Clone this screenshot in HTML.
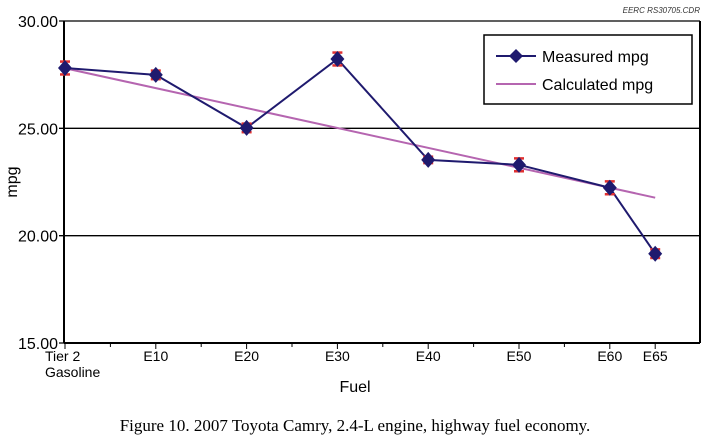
<!DOCTYPE html>
<html><head><meta charset="utf-8"><style>
body{margin:0;background:#fff;width:711px;height:436px;overflow:hidden}
svg{display:block;font-family:"Liberation Sans",sans-serif}
</style></head><body>
<svg id="chart" width="711" height="436">
<text x="700" y="13" font-size="8" font-style="italic" text-anchor="end" fill="#333">EERC RS30705.CDR</text>
<g id="grid"></g>
<g id="axes"></g>
<g id="series"></g>
<g>
<rect x="484" y="35" width="208" height="69" fill="#fff" stroke="#000" stroke-width="1.5"/>
<line x1="496" y1="56" x2="536" y2="56" stroke="#1f1a6e" stroke-width="2"/>
<path d="M516 49 L523 56 L516 63 L509 56Z" fill="#1f1a6e"/>
<text x="542" y="62" font-size="16">Measured mpg</text>
<line x1="496" y1="84" x2="536" y2="84" stroke="#b565b0" stroke-width="2"/>
<text x="542" y="90" font-size="16">Calculated mpg</text>
</g>
<text x="355" y="392" font-size="16" text-anchor="middle">Fuel</text>
<text transform="translate(17,182) rotate(-90)" font-size="16" text-anchor="middle">mpg</text>
<text x="355" y="431" font-size="17" text-anchor="middle" font-family="Liberation Serif,serif">Figure 10. 2007 Toyota Camry, 2.4-L engine, highway fuel economy.</text>
</svg>
<script>
const ethanolPct=[0,10,20,30,40,50,60,65];
const categories=[["Tier 2","Gasoline"],["E10"],["E20"],["E30"],["E40"],["E50"],["E60"],["E65"]];
const measured=[27.81,27.49,25.02,28.23,23.53,23.3,22.23,19.16];
const errors=[0.3,0.2,0.2,0.3,0.15,0.3,0.3,0.2];
const calcStart=[0,27.8];
const calcEnd=[65,21.77];
const yTicks=[15,20,25,30];
const yLabels=["15.00","20.00","25.00","30.00"];
const NS="http://www.w3.org/2000/svg";
const L=64,R=700,T=21,B=343;
const xs=v=>65+v*9.08;
const ys=v=>B-(v-15)/15*(B-T);
function mk(tag,attrs,parent){const e=document.createElementNS(NS,tag);for(const k in attrs)e.setAttribute(k,attrs[k]);document.getElementById(parent).appendChild(e);return e;}
yTicks.forEach((t,i)=>{
 const g=mk("line",{x1:L-5,x2:R,y1:ys(t),y2:ys(t),stroke:"#000","stroke-width":1.3},"grid");
 
 
 const tx=mk("text",{x:L-6,y:ys(t)+6,"font-size":16,"text-anchor":"end"},"axes");
 tx.textContent=yLabels[i];
 
 
});
mk("line",{x1:L,x2:L,y1:T,y2:B,stroke:"#000","stroke-width":2},"axes");
mk("line",{x1:R,x2:R,y1:T,y2:B,stroke:"#000","stroke-width":2},"axes");
mk("line",{x1:L,x2:R,y1:B,y2:B,stroke:"#000","stroke-width":2},"axes");
for(let p=0;p<=65;p+=5){mk("line",{x1:xs(p),x2:xs(p),y1:B,y2:B+(p%10===0||p===65?6:4),stroke:"#000","stroke-width":1},"axes");}
categories.forEach((c,i)=>{c.forEach((s,j)=>{const t=mk("text",{x:xs(ethanolPct[i])-(i===0?20:0),y:B+18+j*16,"font-size":14,"text-anchor":i===0?"start":"middle"},"axes");t.textContent=s;
 
 });});
const cl=mk("line",{x1:xs(calcStart[0]),y1:ys(calcStart[1]),x2:xs(calcEnd[0]),y2:ys(calcEnd[1]),stroke:"#b565b0","stroke-width":2},"series");


const ml=mk("polyline",{points:measured.map((v,i)=>xs(ethanolPct[i])+","+ys(v)).join(" "),fill:"none",stroke:"#1f1a6e","stroke-width":2},"series");


measured.forEach((v,i)=>{
 const x=xs(ethanolPct[i]),y=ys(v),e=errors[i];
 const y1=ys(v+e),y2=ys(v-e);
 mk("line",{x1:x,x2:x,y1:y1,y2:y2,stroke:"#e03030","stroke-width":1.5},"series");
 mk("line",{x1:x-5,x2:x+5,y1:y1,y2:y1,stroke:"#e03030","stroke-width":2.5},"series");
 mk("line",{x1:x-5,x2:x+5,y1:y2,y2:y2,stroke:"#e03030","stroke-width":2.5},"series");
 const d=mk("path",{d:`M${x} ${y-8}L${x+7} ${y}L${x} ${y+8}L${x-7} ${y}Z`,fill:"#1f1a6e"},"series");
 
 
});
</script>
</body></html>
